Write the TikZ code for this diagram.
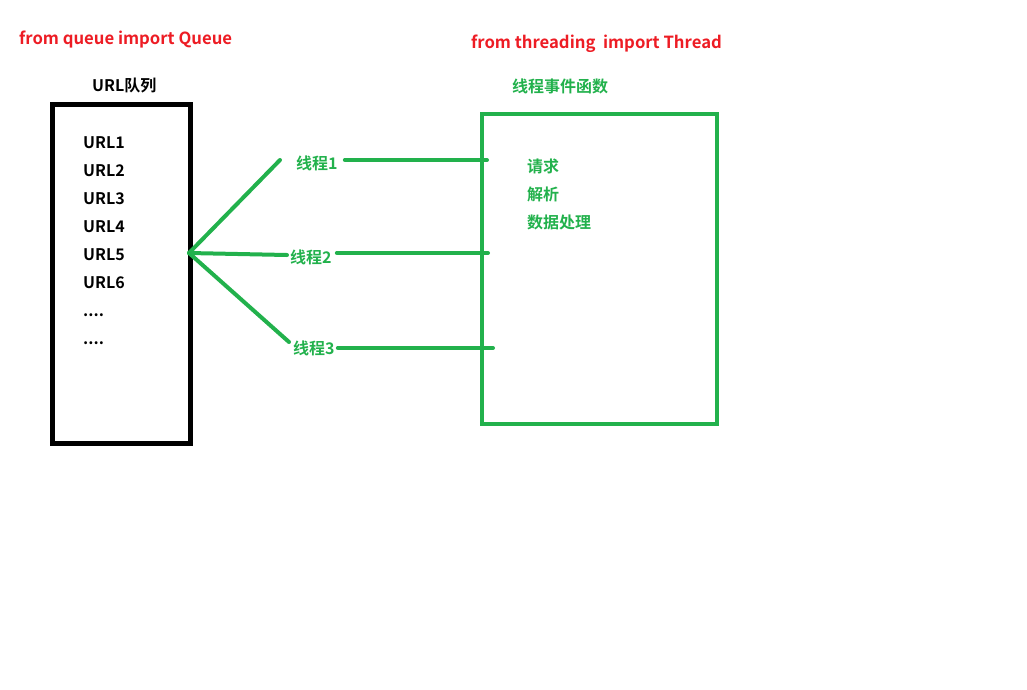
\documentclass[tikz,border=0pt]{standalone}
\usepackage{fontspec}
\setmainfont{Noto Sans CJK SC}[BoldFont={Noto Sans CJK SC Bold}]
\usetikzlibrary{positioning}

\definecolor{codered}{HTML}{ED1C24}
\definecolor{thrgreen}{HTML}{22B14C}

\tikzset{
	lbl/.style={anchor=west, inner sep=0pt, font=\fontsize{16}{18}\selectfont\bfseries},
	imp/.style={lbl, codered, font=\fontsize{16.7}{18}\selectfont\bfseries},
	wire/.style={thrgreen, line width=4pt, line cap=round},
}

\begin{document}
\begin{tikzpicture}[x=1pt, y=-1pt]

	\useasboundingbox (0,0) rectangle (1027,689);

	% imports
	\node[imp] (impq) at (19, 40) {from queue import Queue};
	\node[imp] (impt) at (471, 44) {from threading\ \ import Thread};

	% URL queue
	\node[lbl] (qtitle) at (92, 86) {URL队列};
	\draw [line width=5pt] (52.5,104.5) rectangle (190.5,443.5);
	\foreach \i/\y in {1/143, 2/171, 3/199, 4/227, 5/255, 6/283}
		\node[lbl] (url\i) at (83, \y) {URL\i};
	\node[lbl] (dots1) at (83, 315) {....};
	\node[lbl] (dots2) at (83, 343) {....};

	% thread function
	\node[lbl, thrgreen] (fntitle) at (512, 86) {线程事件函数};
	\draw [thrgreen, line width=4.5pt] (482,114) rectangle (717,424);
	\node[lbl, thrgreen] (req) at (527, 166) {请求};
	\node[lbl, thrgreen] (parse) at (527, 194) {解析};
	\node[lbl, thrgreen] (proc) at (527, 222) {数据处理};

	% threads
	\coordinate (hub) at (189, 253);
	\node[lbl, thrgreen] (t1) at (296, 163) {线程1};
	\node[lbl, thrgreen] (t2) at (290, 257) {线程2};
	\node[lbl, thrgreen] (t3) at (293, 348) {线程3};
	\coordinate (t1in) at (280, 160);
	\coordinate (t2in) at (287, 255);
	\coordinate (t3in) at (289, 342);

	\draw [wire] (hub) -- (t1in);
	\draw [wire] (hub) -- (t2in);
	\draw [wire] (hub) -- (t3in);

	\draw [wire] ([xshift=7pt]t1.east |- 0,160) -- (487, 160);
	\draw [wire] ([xshift=5pt]t2.east |- 0,253) -- (488, 253);
	\draw [wire] ([xshift=3pt]t3.east |- 0,348) -- (493, 348);

\end{tikzpicture}
\end{document}
